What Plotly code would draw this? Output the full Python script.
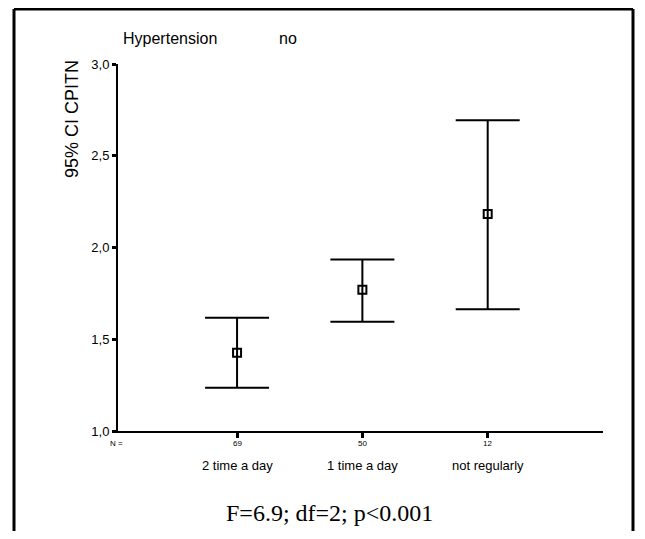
import plotly.graph_objects as go

# data
categories = ["2 time a day", "1 time a day", "not regularly"]
n_values = ["69", "50", "12"]
means = [1.427, 1.770, 2.183]
upper = [1.617, 1.934, 2.693]
lower = [1.236, 1.596, 1.663]
y_ticks = [1.0, 1.5, 2.0, 2.5, 3.0]

xpos = [1, 2, 3]
err_plus = [u - m for u, m in zip(upper, means)]
err_minus = [m - l for m, l in zip(means, lower)]

OFF = 8  # page body margin
W, H = 645 - 2 * OFF, 539 - 2 * OFF
L, T = 118 - OFF, 64 - OFF
pw, ph = 485, 367
R = W - L - pw
B = H - T - ph

def px(x):
    return (x - OFF - L) / pw

def py(y):
    return (T + ph - (y - OFF)) / ph

fig = go.Figure()
fig.add_trace(go.Scatter(
    x=xpos, y=means, mode="markers",
    marker=dict(symbol="square-open", size=8, color="black", line=dict(width=2, color="black")),
    error_y=dict(type="data", symmetric=False, array=err_plus, arrayminus=err_minus,
                 color="black", thickness=2, width=32),
    showlegend=False, hoverinfo="skip",
))

FONT = "Liberation Sans, Arial"
annotations = []
for xv, n, c in zip(xpos, n_values, categories):
    annotations.append(dict(x=xv, y=py(443), xref="x", yref="paper", text=n, showarrow=False,
                            font=dict(family=FONT, size=8, color="black"),
                            xanchor="center", yanchor="middle"))
    annotations.append(dict(x=xv, y=py(465), xref="x", yref="paper", text=c, showarrow=False,
                            font=dict(family=FONT, size=13, color="black"),
                            xanchor="center", yanchor="middle"))
annotations.append(dict(x=px(116), y=py(443), xref="paper", yref="paper", text="N =", showarrow=False,
                        font=dict(family=FONT, size=8, color="black"),
                        xanchor="center", yanchor="middle"))
annotations.append(dict(x=px(121), y=py(38), xref="paper", yref="paper", text="Hypertension", showarrow=False,
                        font=dict(family=FONT, size=16, color="black"),
                        xanchor="left", yanchor="middle"))
annotations.append(dict(x=px(277), y=py(38), xref="paper", yref="paper", text="no", showarrow=False,
                        font=dict(family=FONT, size=16, color="black"),
                        xanchor="left", yanchor="middle"))
annotations.append(dict(x=px(72), y=py(119), xref="paper", yref="paper", text="95% CI CPITN", showarrow=False,
                        textangle=-90,
                        font=dict(family=FONT, size=18, color="black"),
                        xanchor="center", yanchor="middle"))
annotations.append(dict(x=px(329), y=py(513), xref="paper", yref="paper", text="F=6.9; df=2; p<0.001", showarrow=False,
                        font=dict(family="Liberation Serif, Times New Roman", size=24, color="black"),
                        xanchor="center", yanchor="middle"))

# outer frame (open at bottom)
fl, fr, ft, fb = px(14), px(633), py(9), py(560)
shapes = [
    dict(type="line", xref="paper", yref="paper", x0=fl, x1=fl, y0=fb, y1=ft, line=dict(color="black", width=3)),
    dict(type="line", xref="paper", yref="paper", x0=fl, x1=fr, y0=ft, y1=ft, line=dict(color="black", width=3)),
    dict(type="line", xref="paper", yref="paper", x0=fr, x1=fr, y0=ft, y1=fb, line=dict(color="black", width=3)),
]

fig.update_layout(
    width=W, height=H,
    margin=dict(l=L, r=R, t=T, b=B),
    paper_bgcolor="white", plot_bgcolor="white",
    separators=",.",
    font=dict(family=FONT, color="black"),
    xaxis=dict(range=[0.05, 3.92], tickvals=xpos, ticktext=["", "", ""],
               showgrid=False, zeroline=False, showline=True, linecolor="black", linewidth=2,
               ticks="outside", ticklen=5, tickwidth=3, tickcolor="black", fixedrange=True),
    yaxis=dict(range=[1, 3], tickvals=y_ticks, tickformat=".1f",
               showgrid=False, zeroline=False, showline=True, linecolor="black", linewidth=2,
               ticks="outside", ticklen=4, tickwidth=3, tickcolor="black",
               tickfont=dict(size=13, family=FONT, color="black"),
               fixedrange=True),
    annotations=annotations,
    shapes=shapes,
)

fig.write_html("out.html")
